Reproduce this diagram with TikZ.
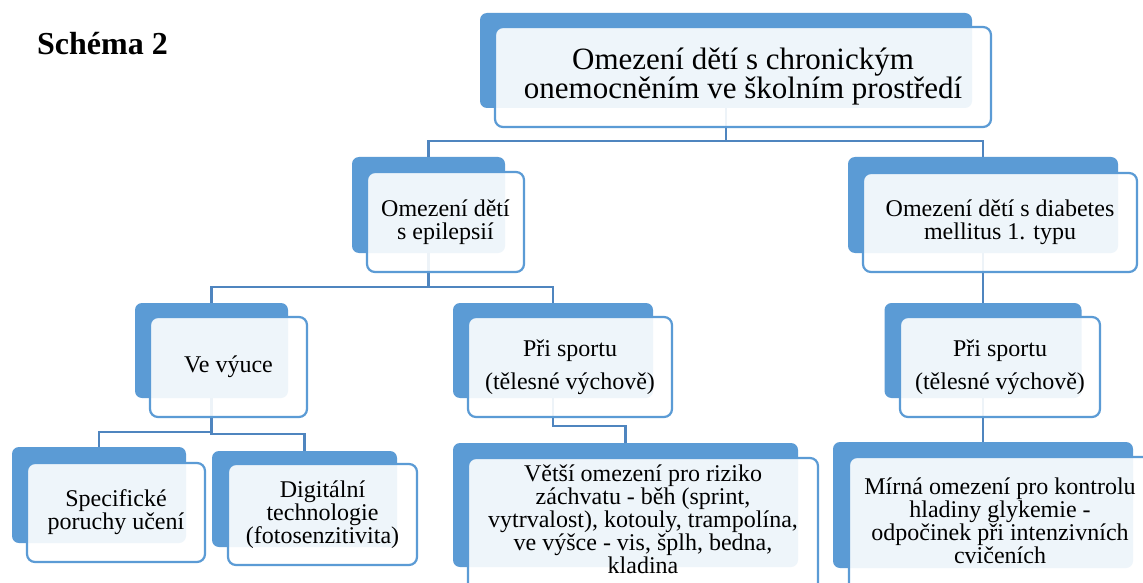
\documentclass[tikz,border=0pt]{standalone}
\usepackage{fontspec}
\setmainfont{Liberation Serif}
\definecolor{backblue}{HTML}{5B9BD5}
\definecolor{connblue}{HTML}{4F85BF}
\tikzset{
  backbox/.style={fill=backblue, draw=none, rounded corners=7pt, inner sep=0pt, outer sep=0pt},
  frontbox/.style={fill=white, fill opacity=0.9, text opacity=1, draw=backblue, line width=2.2pt,
                   rounded corners=8pt, inner sep=0pt, outer sep=0pt, align=center,
                   font=\fontsize{24}{23}\selectfont},
  boxtext/.style={align=center, inner sep=0pt, font=\fontsize{24}{23}\selectfont},
  conn/.style={draw=connblue, line width=2.5pt},
}
\begin{document}
\begin{tikzpicture}[x=1pt,y=-1pt]
\useasboundingbox (0,0) rectangle (1143,583);
\fill[white] (0,0) rectangle (1143,583);

% back boxes
\node[backbox, minimum width=492pt, minimum height=95pt] (topB) at (726,60.5) {};
\node[backbox, minimum width=153pt, minimum height=96pt] (epiB) at (428.5,205) {};
\node[backbox, minimum width=270pt, minimum height=96pt] (diaB) at (983,205) {};
\node[backbox, minimum width=153pt, minimum height=95pt] (vyuB) at (211.5,350.5) {};
\node[backbox, minimum width=200pt, minimum height=95pt] (spLB) at (553,350.5) {};
\node[backbox, minimum width=197pt, minimum height=95pt] (spRB) at (983,350.5) {};
\node[backbox, minimum width=174pt, minimum height=96pt] (specB) at (99,495) {};
\node[backbox, minimum width=185pt, minimum height=96pt] (digiB) at (304.5,499) {};
\node[backbox, minimum width=345pt, minimum height=124pt] (vetB) at (625.5,505) {};
\node[backbox, minimum width=300pt, minimum height=126pt] (mirB) at (983,505) {};

% connectors
\draw[conn] (topB.south) -- ++(0,33) -| (epiB.north);
\draw[conn] (topB.south) -- ++(0,33) -| (diaB.north);
\draw[conn] (epiB.south) -- ++(0,34) -| (vyuB.north);
\draw[conn] (epiB.south) -- ++(0,34) -| (spLB.north);
\draw[conn] (diaB.south) -- (spRB.north);
\draw[conn] (vyuB.south) -- ++(0,34) -| (specB.north);
\draw[conn] (vyuB.south) -- ++(0,36) -| (digiB.north);
\draw[conn] (spLB.south) -- ++(0,28) -| (vetB.north);
\draw[conn] (spRB.south) -- (mirB.north);

% front boxes with text
\node[frontbox, minimum width=496pt, minimum height=100pt, font=\fontsize{31}{29}\selectfont] (topF) at (743,77)
  {Omezení dětí s chronickým\\onemocněním ve školním prostředí};
\node[frontbox, minimum width=157pt, minimum height=100pt] (epiF) at (445.5,222) {Omezení dětí\\s epilepsií};
\node[frontbox, minimum width=274pt, minimum height=99pt] (diaF) at (1000,222.5) {Omezení dětí s diabetes\\mellitus 1. typu};
\node[frontbox, minimum width=157pt, minimum height=100pt] (vyuF) at (228.5,367) {Ve výuce};
\node[frontbox, minimum width=204pt, minimum height=100pt] (spLF) at (570,367) {Při sportu\\[10pt](tělesné výchově)};
\node[frontbox, minimum width=200pt, minimum height=100pt] (spRF) at (1000,367) {Při sportu\\[10pt](tělesné výchově)};
\node[frontbox, minimum width=178pt, minimum height=99pt] (specF) at (116,512.5) {Specifické\\poruchy učení};
\node[frontbox, minimum width=189pt, minimum height=101pt] (digiF) at (322.5,514.5) {Digitální\\technologie\\(fotosenzitivita)};
\node[frontbox, minimum width=350pt, minimum height=140pt] (vetF) at (643,528) {};
\node[frontbox, minimum width=303pt, minimum height=140pt] (mirF) at (1000.5,527) {};
\node[boxtext] (vetT) at (643,519) {Větší omezení pro riziko\\záchvatu - běh (sprint,\\vytrvalost), kotouly, trampolína,\\ve výšce - vis, šplh, bedna,\\kladina};
\node[boxtext] (mirT) at (1000,521) {Mírná omezení pro kontrolu\\hladiny glykemie -\\odpočinek při intenzivních\\cvičeních};

% title
\node[anchor=base west, inner sep=0pt, font=\fontsize{32}{36}\selectfont\bfseries] (title) at (37,55) {Schéma 2};
\end{tikzpicture}
\end{document}
